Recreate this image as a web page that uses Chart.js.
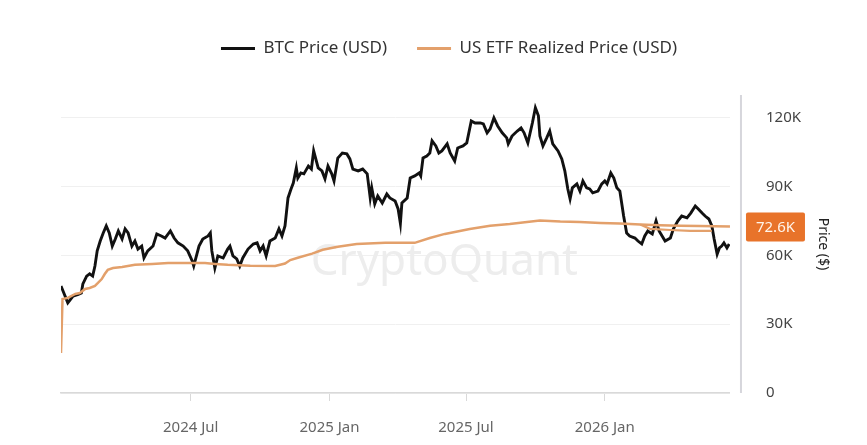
<!DOCTYPE html>
<html>
<head>
<meta charset="utf-8">
<script src="https://cdn.jsdelivr.net/npm/chart.js@4"></script>
<style>
  html, body { margin: 0; padding: 0; background: #fff; }
  #wrap { width: 867px; height: 445px; }
</style>
</head>
<body>
<div id="wrap"><canvas id="chart" width="867" height="445"></canvas></div>
<script>
// days counted from 2024-01-11 (first ETF trading day)
const START = Date.UTC(2024, 0, 11);

const btcDay = [0,9,16,23,27,29,34,38,42,45,48,52,56,60,64,68,72,76,81,85,89,94,98,102,107,110,115,122,127,133,138,145,150,155,162,168,174,176,183,188,195,198,200,204,208,215,221,224,228,233,237,241,248,255,260,264,268,272,277,284,289,293,297,301,305,308,312,314,318,322,328,332,335,341,346,350,354,359,362,367,373,379,383,387,394,400,406,410,412,416,420,426,432,436,443,447,450,452,459,463,469,475,477,480,485,489,492,497,501,505,512,516,522,526,533,538,544,549,556,560,565,569,574,579,585,591,593,598,605,610,614,619,625,629,633,635,639,644,648,652,659,664,668,672,675,678,684,688,692,697,701,705,712,717,721,724,729,733,737,741,744,746,750,754,761,765,770,774,778,784,789,793,797,801,808,812,818,823,830,835,841,845,850,854,859,863,866,870,873,876,879,883,886];
const btcPrice = [46700,39300,42300,43000,43600,47600,51000,52000,51000,55400,62000,66300,69800,72900,69800,64100,67200,70700,67200,71600,69800,64100,66300,62800,64100,58900,62000,64100,69400,68500,67600,70700,67600,65500,64100,62000,57600,55400,64100,67200,68500,69800,62000,54500,59800,58900,62800,64100,59800,58500,55400,58900,62800,65000,65500,62000,64100,59800,66300,67600,71600,68500,72900,85100,89000,91600,98200,93800,96000,95600,99000,97700,105600,98200,96900,93400,99000,95600,92500,102500,104700,104300,102100,97700,96900,97700,95600,85100,89500,82500,86000,82900,86800,85100,83800,80300,74000,82900,85100,93800,94700,96000,94700,102500,103400,104700,110000,107800,104700,105600,108700,104700,101200,106900,107800,109100,118700,117800,117800,117400,113500,115200,120000,116500,113500,111300,108700,112100,114300,115600,113500,109100,117800,124400,120900,112100,107800,111300,114300,108700,105600,102100,96900,89000,84700,89500,91200,88100,92500,89500,89000,87300,88100,91200,92500,91200,96000,93800,89500,88100,81600,77200,69800,68500,67600,66300,65000,68500,70700,69400,75100,70700,68500,66300,67600,71600,75100,77200,76400,78500,81600,80300,78500,77200,75900,72900,67200,60600,63300,64100,65500,63300,65000];

const etfDay = [0,2,9,19,25,32,38,45,49,54,58,62,69,81,98,121,142,168,191,204,221,251,284,297,304,314,333,347,367,392,430,469,489,509,542,569,595,635,662,688,715,741,768,794,821,847,887];
const etfPrice = [17500,41000,41500,43200,43600,45400,45800,46700,48000,49700,51900,53700,54500,55000,55900,56300,56700,56700,56700,56300,55900,55500,55400,56500,58000,59000,60800,62500,63800,65000,65500,65500,67600,69400,71500,73000,73700,75300,74800,74600,74200,73900,73500,73200,73000,72800,72600];

// lower orange branch seen at the right end
const etfBranchDay = [768,781,808,834,863];
const etfBranchPrice = [73500,71600,71100,70700,70700];

const tickDates = ['2024-07-01','2025-01-01','2025-07-01','2026-01-01'];
const tickLabels = ['2024 Jul','2025 Jan','2025 Jul','2026 Jan'];
const yTicks = [0,30000,60000,90000,120000];

const FONT = '"Noto Sans", "Open Sans", sans-serif';
const BTC_COLOR = '#111111';
const ETF_COLOR = '#e3a06b';

function dayOf(s) {
  const [y, m, d] = s.split('-').map(Number);
  return Math.round((Date.UTC(y, m - 1, d) - START) / 86400000);
}
function pts(xs, ys) { return xs.map((x, i) => ({ x, y: ys[i] })); }
function fmtK(v) { return v === 0 ? '0' : (v / 1000).toFixed(v % 1000 ? 1 : 0) + 'K'; }

const tickDays = tickDates.map(dayOf);

const legendSpace = {
  id: 'legendSpace',
  beforeInit(chart) {
    const fit = chart.legend.fit;
    chart.legend.fit = function () { fit.call(this); this.height = 85; };
  }
};

const watermark = {
  id: 'watermark',
  beforeDatasetsDraw(chart) {
    const { ctx, chartArea: a } = chart;
    ctx.save();
    ctx.font = '44px ' + FONT;
    ctx.fillStyle = '#ededed';
    ctx.textAlign = 'center';
    ctx.textBaseline = 'middle';
    ctx.fillText('CryptoQuant', a.left + (a.right - a.left) * 0.573, 262);
    ctx.restore();
  }
};

const axisDecor = {
  id: 'axisDecor',
  afterDraw(chart) {
    const { ctx, chartArea: a, scales } = chart;
    ctx.save();
    // right axis line, set a little away from the plot
    ctx.strokeStyle = '#d6d6dc';
    ctx.lineWidth = 2;
    ctx.beginPath();
    ctx.moveTo(a.right + 11, a.top);
    ctx.lineTo(a.right + 11, a.bottom);
    ctx.stroke();
    // last value badge
    const last = etfPrice[etfPrice.length - 1];
    const y = scales.y.getPixelForValue(last);
    ctx.fillStyle = '#e8732a';
    ctx.beginPath();
    ctx.roundRect(a.right + 16, y - 14, 59, 29, 2);
    ctx.fill();
    ctx.fillStyle = '#fff4ea';
    ctx.font = '15px ' + FONT;
    ctx.textAlign = 'center';
    ctx.textBaseline = 'middle';
    ctx.fillText(fmtK(last), a.right + 45.5, y + 1);
    // axis title, rotated
    ctx.translate(a.right + 93, (a.top + a.bottom) / 2);
    ctx.rotate(Math.PI / 2);
    ctx.fillStyle = '#222';
    ctx.font = '14px ' + FONT;
    ctx.fillText('Price ($)', 0, 0);
    ctx.restore();
  }
};

new Chart(document.getElementById('chart'), {
  type: 'line',
  data: {
    datasets: [
      { label: 'BTC Price (USD)', data: pts(btcDay, btcPrice), borderColor: BTC_COLOR, backgroundColor: BTC_COLOR, borderWidth: 2.9, order: 2 },
      { label: 'US ETF Realized Price (USD)', data: pts(etfDay, etfPrice), borderColor: ETF_COLOR, backgroundColor: ETF_COLOR, borderWidth: 2.5, order: 1 },
      { label: 'branch', data: pts(etfBranchDay, etfBranchPrice), borderColor: ETF_COLOR, backgroundColor: ETF_COLOR, borderWidth: 2.2, order: 1 }
    ]
  },
  options: {
    responsive: false,
    animation: false,
    devicePixelRatio: 1,
    elements: { point: { radius: 0 }, line: { tension: 0, fill: false } },
    layout: { padding: { top: 10, left: 61, right: 30, bottom: -10 } },
    plugins: {
      tooltip: { enabled: false },
      legend: {
        position: 'top',
        labels: {
          boxWidth: 34,
          boxHeight: 3,
          padding: 30,
          color: '#333',
          font: { family: FONT, size: 17 },
          sort: (a, b) => a.datasetIndex - b.datasetIndex,
          generateLabels: (chart) => Chart.defaults.plugins.legend.labels.generateLabels(chart)
            .filter(l => l.datasetIndex < 2)
            .map(l => ({ ...l, lineWidth: 0 }))
        }
      }
    },
    scales: {
      x: {
        type: 'linear',
        min: 0,
        max: 887,
        afterBuildTicks: (axis) => { axis.ticks = tickDays.map(v => ({ value: v })); },
        ticks: {
          autoSkip: false,
          maxRotation: 0,
          padding: 18,
          color: '#666',
          font: { family: FONT, size: 15 },
          callback: (v) => tickLabels[tickDays.indexOf(v)]
        },
        grid: { drawOnChartArea: false, tickLength: 8, color: '#d9d9d9' },
        border: { color: '#d9d9d9', width: 1.5 }
      },
      y: {
        position: 'right',
        min: 0,
        max: 130000,
        afterBuildTicks: (axis) => { axis.ticks = yTicks.map(v => ({ value: v })); },
        ticks: {
          padding: 36,
          color: '#444',
          font: { family: FONT, size: 15 },
          callback: (v) => fmtK(v)
        },
        grid: { color: '#f0f0f0', drawTicks: false },
        border: { display: false }
      }
    }
  },
  plugins: [legendSpace, watermark, axisDecor]
});
</script>
</body>
</html>
